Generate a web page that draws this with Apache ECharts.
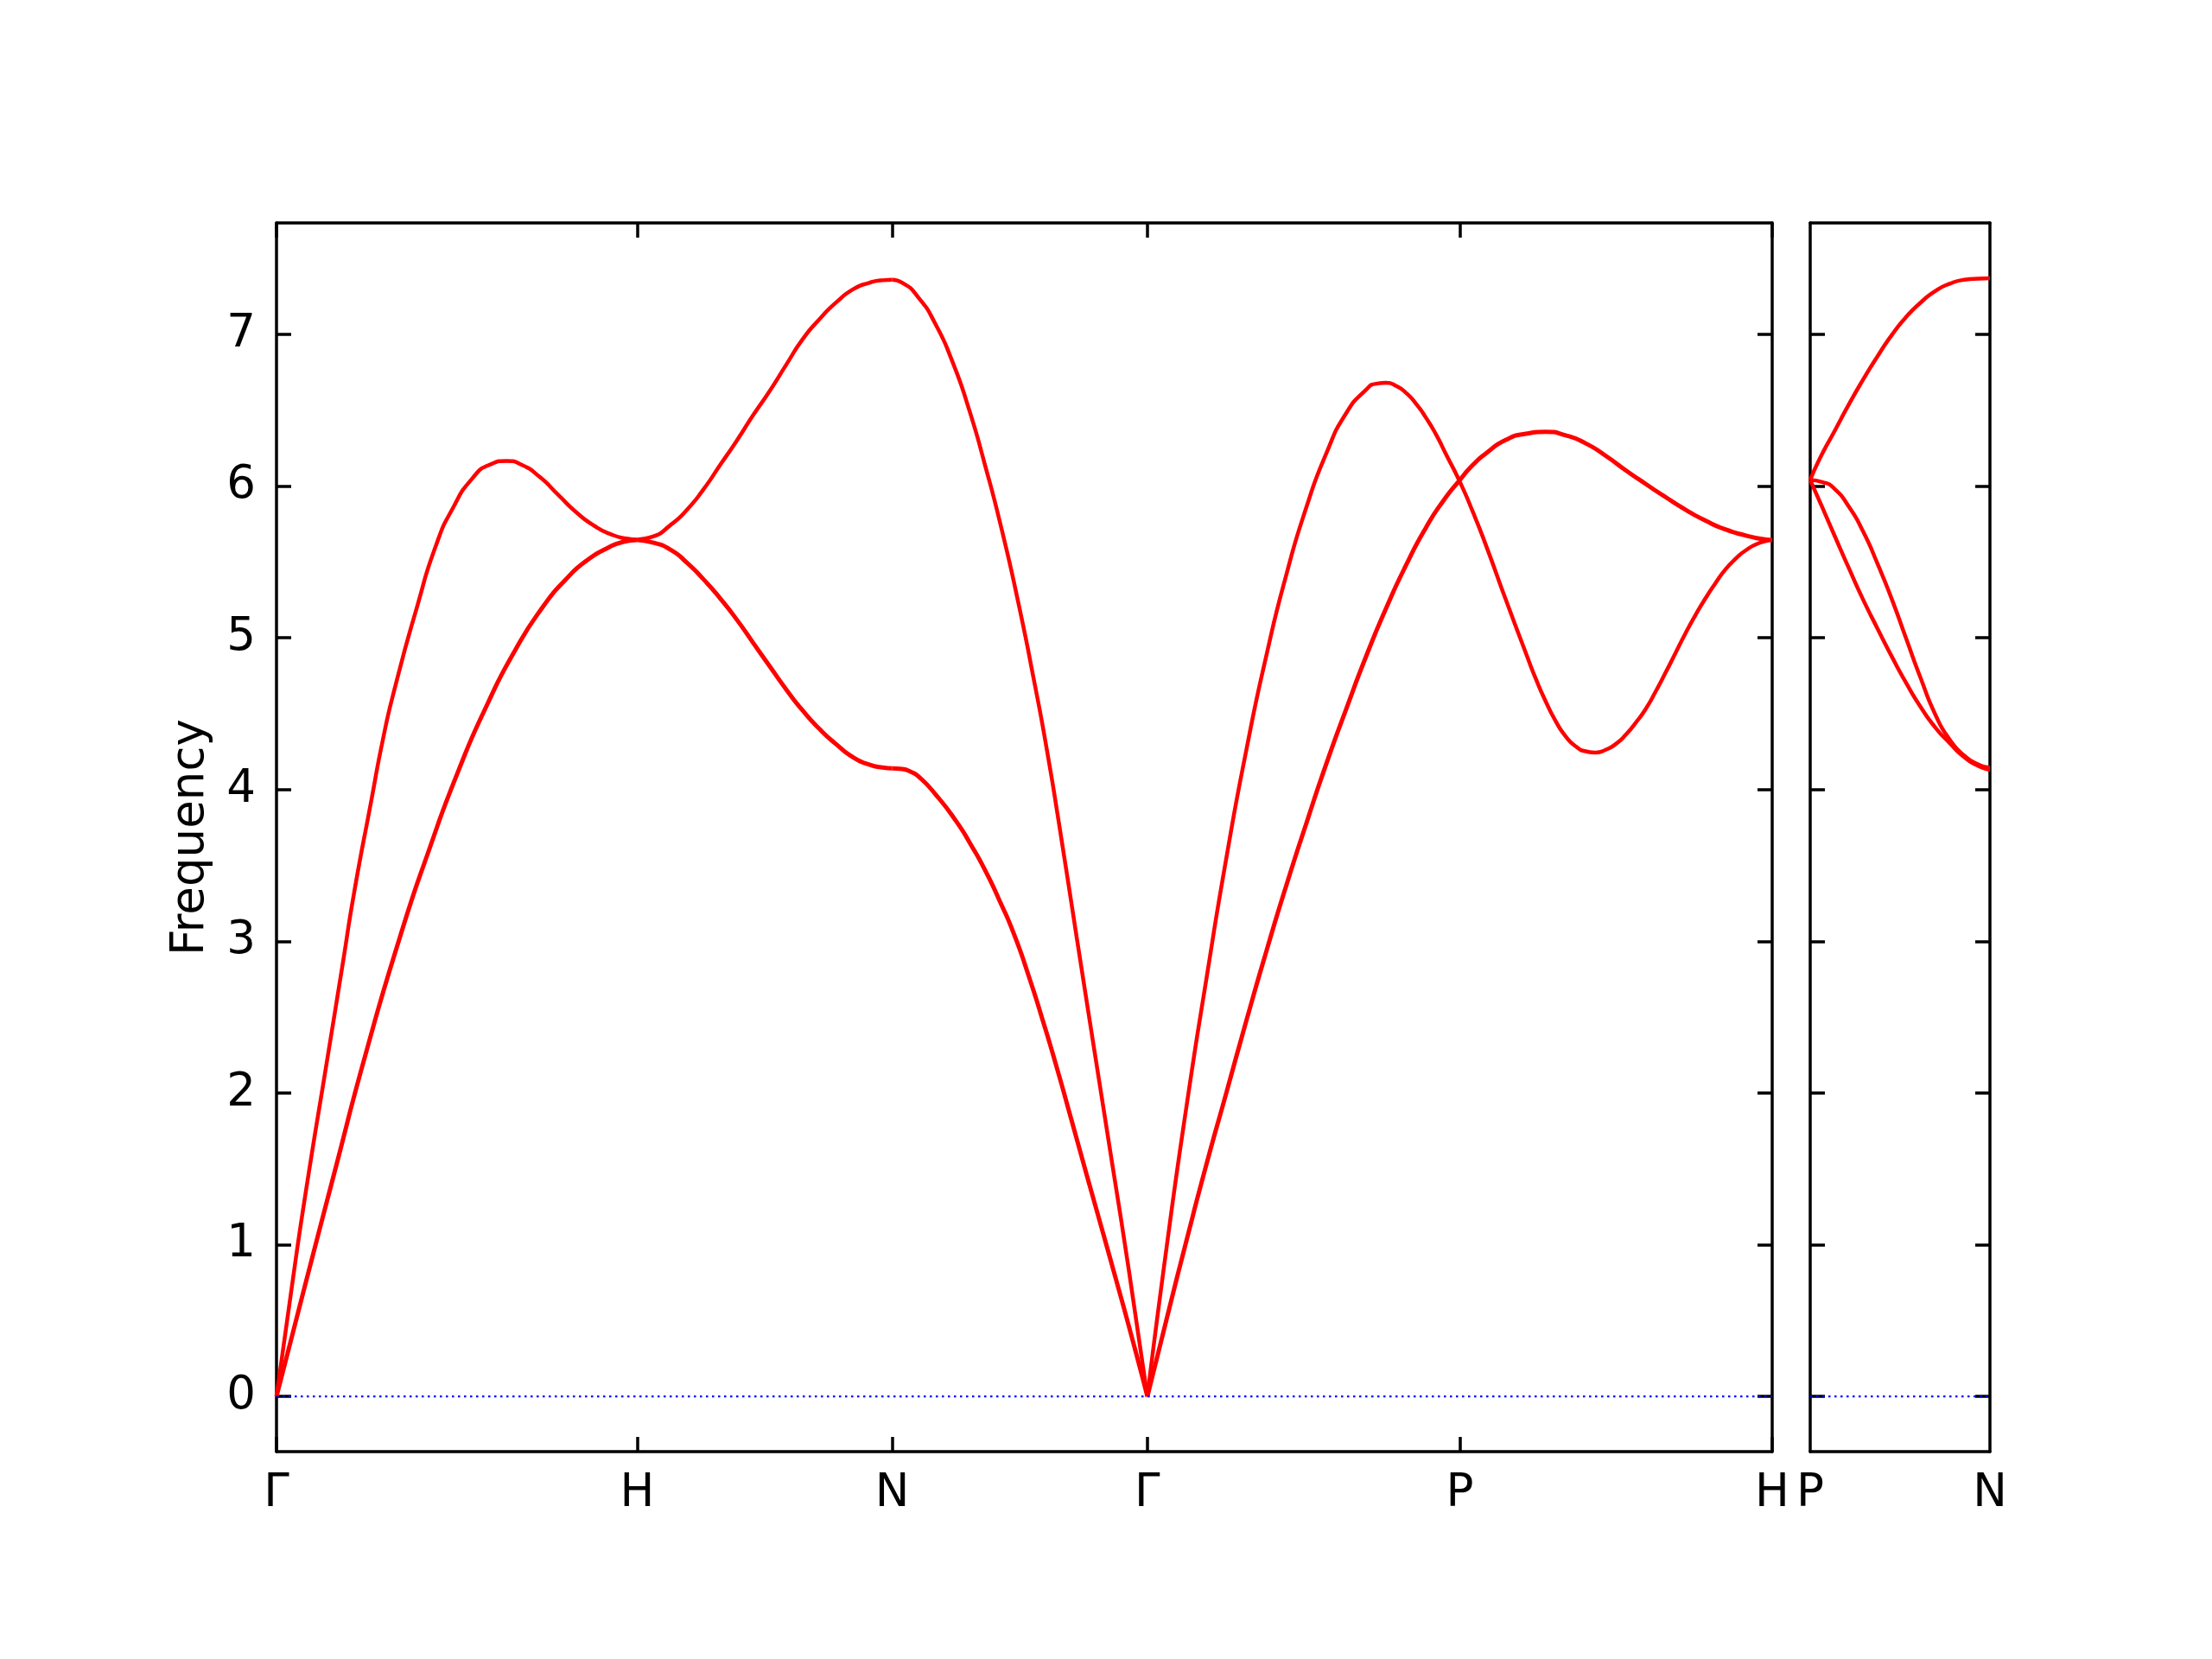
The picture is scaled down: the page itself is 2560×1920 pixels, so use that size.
<!DOCTYPE html>
<html><head><meta charset="utf-8">
<script src="https://cdn.jsdelivr.net/npm/echarts@6/dist/echarts.min.js"></script>
<style>html,body{margin:0;padding:0;background:#fff}#c{width:2560px;height:1920px}</style>
</head><body><div id="c"></div>
<script>
// ---- tick positions / labels ----
const mainTickPos = [0, 1, 1.7071, 2.4142, 3.2802, 4.1463];
const mainTickLabels = ['Γ', 'H', 'N', 'Γ', 'P', 'H'];
const sideTickPos = [0, 0.5];
const sideTickLabels = ['P', 'N'];
const yTicks = [0, 1, 2, 3, 4, 5, 6, 7];
const yMin = -0.364, yMax = 7.735;

// ---- band data: [distance, frequency] ----
// Γ–H
const GH_upper = [[0,0],[0.04,0.68],[0.08,1.33],[0.143,2.255],[0.183,2.843],[0.215,3.318],[0.263,3.93],[0.295,4.33],[0.327,4.66],[0.391,5.216],[0.443,5.615],[0.49,5.86],[0.5425,6.05],[0.59,6.14],[0.638,6.166],[0.68,6.14],[0.73,6.06],[0.782,5.94],[0.83,5.83],[0.88,5.74],[0.93,5.68],[0.97,5.655],[1.0,5.648]];
const GH_lower = [[0,0],[0.08,0.74],[0.16,1.47],[0.247,2.255],[0.343,3.034],[0.423,3.603],[0.503,4.116],[0.582,4.55],[0.662,4.92],[0.742,5.216],[0.8,5.38],[0.86,5.51],[0.92,5.595],[0.96,5.632],[1.0,5.645]];
// H–N
const HN_upper = [[1.0,5.648],[1.04,5.665],[1.093,5.745],[1.14,5.85],[1.184,5.98],[1.23,6.14],[1.276,6.30],[1.322,6.47],[1.368,6.63],[1.413,6.80],[1.459,6.97],[1.505,7.10],[1.551,7.21],[1.6,7.30],[1.643,7.34],[1.68,7.357],[1.7071,7.36]];
const HN_lower = [[1.0,5.645],[1.04,5.63],[1.093,5.58],[1.14,5.49],[1.184,5.385],[1.23,5.26],[1.276,5.12],[1.322,4.965],[1.368,4.81],[1.413,4.66],[1.459,4.52],[1.505,4.40],[1.551,4.30],[1.6,4.21],[1.643,4.165],[1.68,4.145],[1.7071,4.14]];
// N–Γ
const NG_upper = [[1.7071,7.36],[1.735,7.34],[1.7805,7.24],[1.8264,7.07],[1.8722,6.83],[1.918,6.52],[1.964,6.14],[2.0098,5.72],[2.0557,5.24],[2.1015,4.70],[2.135,4.27],[2.1683,3.79],[2.218,3.03],[2.268,2.27],[2.318,1.515],[2.363,0.83],[2.4142,0]];
const NG_lower = [[1.7071,4.14],[1.735,4.135],[1.76,4.115],[1.7805,4.085],[1.8264,3.97],[1.8845,3.79],[1.924,3.64],[1.964,3.47],[2.004,3.27],[2.044,3.05],[2.084,2.78],[2.124,2.48],[2.164,2.16],[2.204,1.82],[2.246,1.46],[2.288,1.105],[2.325,0.79],[2.37,0.40],[2.4142,0]];
// Γ–P–H
const GPH_a = [[2.4142,0],[2.4677,0.986],[2.523,1.917],[2.5783,2.759],[2.6337,3.557],[2.689,4.266],[2.7443,4.886],[2.7996,5.418],[2.855,5.861],[2.9103,6.216],[2.9656,6.482],[3.0209,6.637],[3.0485,6.675],[3.0762,6.681],[3.104,6.66],[3.1315,6.614],[3.16,6.54],[3.1868,6.45],[3.2145,6.34],[3.2421,6.21],[3.2802,6.03],[3.3165,5.83],[3.3528,5.61],[3.4081,5.25],[3.4634,4.90],[3.4911,4.73],[3.5187,4.58],[3.5464,4.45],[3.574,4.35],[3.6016,4.285],[3.6293,4.252],[3.657,4.244],[3.6847,4.262],[3.7124,4.30],[3.74,4.36],[3.7677,4.44],[3.7953,4.53],[3.823,4.645],[3.8506,4.77],[3.8783,4.90],[3.9059,5.03],[3.9336,5.15],[3.9612,5.26],[3.9889,5.36],[4.0165,5.45],[4.0442,5.52],[4.0719,5.575],[4.11,5.625],[4.1463,5.645]];
const GPH_b = [[2.4142,0],[2.4686,0.52],[2.523,1.031],[2.578,1.53],[2.6337,2.006],[2.689,2.48],[2.7443,2.936],[2.7996,3.37],[2.855,3.778],[2.9103,4.17],[2.9656,4.532],[3.0209,4.88],[3.0762,5.196],[3.1315,5.48],[3.1868,5.728],[3.2335,5.90],[3.2802,6.04],[3.3165,6.14],[3.3528,6.216],[3.4081,6.305],[3.4634,6.345],[3.5187,6.358],[3.574,6.335],[3.6293,6.282],[3.6847,6.20],[3.74,6.105],[3.7953,6.015],[3.8506,5.928],[3.9059,5.845],[3.9612,5.773],[4.0165,5.715],[4.0719,5.675],[4.11,5.655],[4.1463,5.645]];
// P–N (side panel)
const PN_upper = [[0,6.04],[0.0272,6.184],[0.0673,6.361],[0.1074,6.538],[0.1474,6.703],[0.1875,6.857],[0.2276,6.998],[0.2676,7.117],[0.3077,7.211],[0.3478,7.286],[0.3878,7.334],[0.4279,7.36],[0.4679,7.368],[0.5,7.37]];
const PN_middle = [[0,6.04],[0.0353,6.026],[0.0673,5.983],[0.1074,5.865],[0.1474,5.70],[0.1875,5.487],[0.2276,5.251],[0.2676,4.991],[0.3077,4.732],[0.3478,4.496],[0.3878,4.33],[0.4279,4.225],[0.4679,4.165],[0.5,4.145]];
const PN_lower = [[0,6.04],[0.0336,5.86],[0.0673,5.676],[0.1074,5.46],[0.1474,5.251],[0.1875,5.06],[0.2276,4.874],[0.2676,4.70],[0.3077,4.543],[0.3478,4.41],[0.3878,4.307],[0.4279,4.215],[0.4679,4.155],[0.5,4.13]];
// zero reference lines
const zeroMain = [[0,0],[4.1463,0]];
const zeroSide = [[0,0],[0.5,0]];

// ---- chart ----
const FONT = 'DejaVu Sans';
const LS = {color:'#000', width:3.5};
function labelFmt(pos, labels){
  return function(v){ for (let i=0;i<pos.length;i++){ if (Math.abs(pos[i]-v)<1e-6) return labels[i]; } return ''; };
}
function xAx(grid, position, max, ticks, labels, showLabels, showTicks){
  return {gridIndex:grid, type:'value', position:position, min:0, max:max,
    axisLine:{show:true, onZero:false, lineStyle:LS},
    axisTick:{show:showTicks, inside:true, length:17, customValues:ticks, lineStyle:LS},
    axisLabel:{show:showLabels, customValues:ticks, formatter:labelFmt(ticks, labels), margin:23,
      color:'#000', fontSize:53, fontFamily:FONT},
    splitLine:{show:false}};
}
function yAx(grid, position, showLabels, extra){
  const a = {gridIndex:grid, type:'value', position:position, min:yMin, max:yMax,
    axisLine:{show:true, onZero:false, lineStyle:LS},
    axisTick:{show:true, inside:true, length:17, customValues:yTicks, lineStyle:LS},
    axisLabel:{show:showLabels, customValues:yTicks, margin:24, padding:[10,0,0,0], color:'#000', fontSize:53, fontFamily:FONT},
    splitLine:{show:false}};
  return Object.assign(a, extra||{});
}
function band(data, xi, yi, w){
  return {type:'line', xAxisIndex:xi, yAxisIndex:yi, data:data, symbol:'none', smooth:0.6,
    lineStyle:{color:'#ff0000', width:w}, z:3, silent:true, animation:false};
}
function zero(data, xi, yi){
  return {type:'line', xAxisIndex:xi, yAxisIndex:yi, data:data, symbol:'none',
    lineStyle:{color:'#0000ff', width:2.2, type:[2.5,4.5]}, z:4, silent:true, animation:false};
}
const chart = echarts.init(document.getElementById('c'), null, {renderer:'canvas', width:2560, height:1920});
chart.setOption({
  backgroundColor:'#ffffff',
  animation:false,
  grid:[
    {left:320, top:258, width:1731, height:1422},
    {left:2095, top:258, width:208, height:1422}
  ],
  xAxis:[
    xAx(0,'bottom',4.1463,mainTickPos,mainTickLabels,true,true),
    xAx(0,'top',4.1463,mainTickPos,mainTickLabels,false,true),
    xAx(1,'bottom',0.5,sideTickPos,sideTickLabels,true,false),
    xAx(1,'top',0.5,sideTickPos,sideTickLabels,false,false)
  ],
  yAxis:[
    yAx(0,'left',true,{name:'Frequency', nameLocation:'middle', nameGap:72,
      nameTextStyle:{color:'#000', fontSize:53, fontFamily:FONT}}),
    yAx(0,'right',false),
    yAx(1,'left',false),
    yAx(1,'right',false)
  ],
  series:[
    zero(zeroMain,0,0),
    zero(zeroSide,2,2),
    band(GH_lower,0,0,5), band(GH_upper,0,0,4.5),
    band(HN_lower,0,0,5), band(HN_upper,0,0,4.5),
    band(NG_lower,0,0,5), band(NG_upper,0,0,4.5),
    band(GPH_b,0,0,5), band(GPH_a,0,0,4.5),
    band(PN_upper,2,2,4.5), band(PN_middle,2,2,4.5), band(PN_lower,2,2,4.5)
  ]
});
</script></body></html>
